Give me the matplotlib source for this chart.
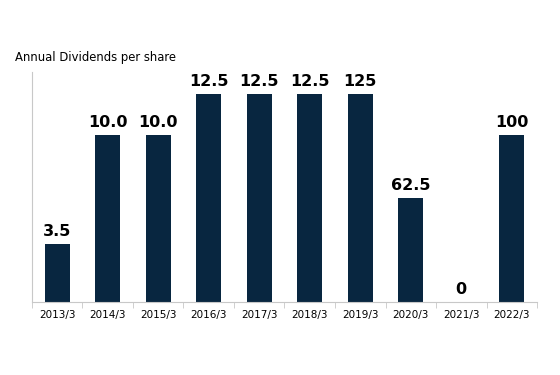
import matplotlib
matplotlib.use('Agg')
import matplotlib.pyplot as plt
import numpy as np

plt.rcParams['font.family'] = ['DejaVu Sans']

# fiscal years and dividend labels (split adjusted heights)
years = ['2013/3', '2014/3', '2015/3', '2016/3', '2017/3',
         '2018/3', '2019/3', '2020/3', '2021/3', '2022/3']
heights = [3.5, 10.0, 10.0, 12.5, 12.5, 12.5, 12.5, 6.25, 0, 10.0]
labels = ['3.5', '10.0', '10.0', '12.5', '12.5', '12.5', '125', '62.5', '0', '100']

BAR_COLOR = '#082640'
GRID_COLOR = '#c8c8c8'

fig = plt.figure(figsize=(5.6, 3.75), dpi=100)
ax = fig.add_axes([0.057, 0.195, 0.902, 0.613])

x = np.arange(len(years))
ax.bar(x, heights, 0.5, color=BAR_COLOR)
for xi, h, lab in zip(x, heights, labels):
    ax.text(xi, h + 0.3, lab, ha='center', va='bottom',
            fontsize=11.5, fontweight='bold', color='black')

ax.set_xlim(-0.5, len(years) - 0.5)
ax.set_ylim(0, 13.8)
ax.set_yticks([])
ax.set_xticks(x)
ax.set_xticklabels(years, fontsize=7.5)
ax.set_xticks(np.arange(-0.5, len(years)), minor=True)
ax.tick_params(axis='x', which='major', length=0, pad=6)
ax.tick_params(axis='x', which='minor', length=4, color=GRID_COLOR, direction='out')

for s in ['top', 'right']:
    ax.spines[s].set_visible(False)
ax.spines['left'].set_color(GRID_COLOR)
ax.spines['bottom'].set_color(GRID_COLOR)

fig.text(15 / 560, 1 - 57 / 375, 'Annual Dividends per share', fontsize=8.4,
         ha='left', va='center')

plt.savefig('out.png', dpi=100)
